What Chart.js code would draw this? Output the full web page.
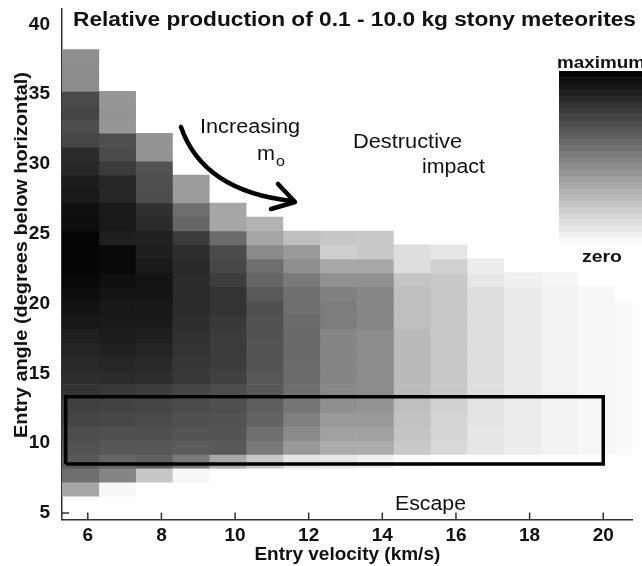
<!DOCTYPE html>
<html><head><meta charset="utf-8">
<script src="https://cdn.jsdelivr.net/npm/chart.js@4/dist/chart.umd.min.js"></script>
<style>html,body{margin:0;padding:0;background:#fff;}canvas{display:block;}</style>
</head><body>
<canvas id="c" width="642" height="566"></canvas>
<script>
// ---- data ----
const velocities = [5.8, 6.8, 7.8, 8.8, 9.8, 10.8, 11.8, 12.8, 13.8, 14.8, 15.8, 16.8, 17.8, 18.8, 19.8, 20.8];
const angles = [6.7, 7.7, 8.7, 9.7, 10.7, 11.7, 12.7, 13.7, 14.7, 15.7, 16.7, 17.7, 18.7, 19.7, 20.7, 21.7,
                22.7, 23.7, 24.7, 25.7, 26.7, 27.7, 28.7, 29.7, 30.7, 31.7, 32.7, 33.7, 34.7, 35.7, 36.7, 37.7];
// relative production (0 = zero, 100 = maximum), per velocity column, rows from lowest angle upward
const p5_8  = [35,57,65,68,70,73,75,80,82,84,86,88,91,93,95,97,98,98,98,95,94,90,89,84,83,72,70,73,71,45,45,44];
const p6_8  = [3,48,60,66,69,72,74,78,83,85,87,89,90,91,92,94,97,97,88,90,90,85,85,77,71,69,41,42,41];
const p7_8  = [null,22,62,66,69,71,73,76,82,84,86,88,90,91,92,92,90,88,87,83,81,70,69,68,42,42];
const p8_8  = [null,3,52,64,67,69,71,73,78,79,80,81,82,83,83,83,84,82,77,60,57,39,39];
const p9_8  = [null,null,34,65,67,68,69,70,75,76,77,77,78,80,80,76,72,71,58,35,35];
const p10_8 = [null,null,22,52,57,61,63,66,66,67,67,68,68,69,65,60,57,46,35,30];
const p11_8 = [null,null,10,40,46,50,54,57,58,58,59,59,58,57,56,52,44,40,25];
const p12_8 = [null,null,9,33,37,40,44,47,48,48,48,48,51,51,50,43,34,19,22];
const p13_8 = [null,null,6,33,37,40,42,45,45,45,45,45,47,47,47,43,34,21,21];
const p14_8 = [null,null,2,21,23,24,25,27,27,27,27,27,25,25,25,23,13,13];
const p15_8 = [null,null,null,15,16,17,18,21,21,21,21,21,21,21,21,21,18,10];
const p16_8 = [null,null,null,10,10,11,11,13,13,13,13,13,13,13,13,10,7];
const p17_8 = [null,null,null,7,7,7,7,8,8,8,8,8,8,8,8,6];
const p18_8 = [null,null,null,5,5,5,5,5,5,5,5,5,5,5,5,4];
const p19_8 = [null,null,null,3,3,3,3,3,3,3,3,3,3,3,3];
const p20_8 = [null,null,null,2,2,2,2,2,2,2,2,2,2,2];
const xTicks = [6, 8, 10, 12, 14, 16, 18, 20];
const yTicks = [5, 10, 15, 20, 25, 30, 35, 40];
const boxVelocity = [5.4, 20.0];
const boxAngle = [8.5, 13.33];

const columns = [p5_8,p6_8,p7_8,p8_8,p9_8,p10_8,p11_8,p12_8,p13_8,p14_8,p15_8,p16_8,p17_8,p18_8,p19_8,p20_8];
const FONT = "'Liberation Sans', Arial, Helvetica, sans-serif";
function gray(p){ const g = Math.round(255 * (1 - p / 100)); return `rgb(${g},${g},${g})`; }

const datasets = velocities.map((v, i) => {
  const pts = [], cols = [];
  columns[i].forEach((p, j) => {
    if (p === null || p === undefined) return;
    pts.push({x: v, y: [angles[j] - 0.5, angles[j] + 0.5]});
    cols.push(gray(p));
  });
  return {type: 'bar', data: pts, backgroundColor: cols, borderWidth: 0,
          barPercentage: 1, categoryPercentage: 1, order: 2};
});
datasets.push({
  type: 'line',
  data: [
    {x: boxVelocity[0], y: boxAngle[0]}, {x: boxVelocity[1], y: boxAngle[0]},
    {x: boxVelocity[1], y: boxAngle[1]}, {x: boxVelocity[0], y: boxAngle[1]},
    {x: boxVelocity[0], y: boxAngle[0]}
  ],
  borderColor: '#000', borderWidth: 3.5, pointRadius: 0, fill: false, tension: 0,
  borderJoinStyle: 'miter', order: 0
});

function stretchText(ctx, str, x, y, font, width, align) {
  ctx.save();
  ctx.font = font;
  const w = ctx.measureText(str).width;
  const sx = width ? width / w : 1;
  ctx.translate(x, y);
  ctx.scale(sx, 1);
  ctx.textAlign = align || 'left';
  ctx.textBaseline = 'middle';
  ctx.fillStyle = '#111';
  ctx.fillText(str, 0, 0);
  ctx.restore();
}

const decor = {
  id: 'decor',
  beforeDatasetsDraw(chart) {
    const {ctx, chartArea: a, scales: {x, y}} = chart;
    ctx.save();
    ctx.strokeStyle = '#333'; ctx.lineWidth = 1.5;
    ctx.beginPath();
    xTicks.forEach(v => { const px = x.getPixelForValue(v); ctx.moveTo(px, a.bottom); ctx.lineTo(px, a.bottom - 7); });
    yTicks.slice(0, -1).forEach(v => { const py = y.getPixelForValue(v); ctx.moveTo(a.left, py); ctx.lineTo(a.left + 7, py); });
    ctx.stroke();
    ctx.restore();
  },
  afterDraw(chart) {
    const ctx = chart.ctx;
    // title
    stretchText(ctx, 'Relative production of 0.1 - 10.0 kg stony meteorites', 73, 20, `bold 20px ${FONT}`, 563);
    // y axis title
    ctx.save();
    ctx.translate(22, 255);
    ctx.rotate(-Math.PI / 2);
    stretchText(ctx, 'Entry angle (degrees below horizontal)', 0, 0, `bold 19px ${FONT}`, 366, 'center');
    ctx.restore();
    // annotations
    stretchText(ctx, 'Increasing', 200, 127, `20px ${FONT}`, 100);
    stretchText(ctx, 'm', 257, 154, `20px ${FONT}`, 18);
    stretchText(ctx, 'o', 276, 162, `14px ${FONT}`, 9);
    stretchText(ctx, 'Destructive', 353, 142, `20px ${FONT}`, 109);
    stretchText(ctx, 'impact', 422, 167, `20px ${FONT}`, 63);
    stretchText(ctx, 'Escape', 395, 504, `20px ${FONT}`, 71);
    // arrow
    ctx.save();
    ctx.strokeStyle = '#000'; ctx.lineWidth = 4.5; ctx.lineCap = 'round'; ctx.lineJoin = 'round';
    ctx.beginPath();
    ctx.moveTo(181, 127);
    ctx.quadraticCurveTo(203, 191, 292, 201);
    ctx.stroke();
    ctx.beginPath();
    ctx.moveTo(278, 184); ctx.lineTo(295, 202); ctx.lineTo(271, 209);
    ctx.stroke();
    ctx.restore();
    // colour bar
    const top = 71, bottom = 244, left = 559, right = 642, steps = 28;
    const h = (bottom - top) / steps;
    for (let i = 0; i < steps; i++) {
      ctx.fillStyle = gray(100 - (i + 0.5) * 100 / steps);
      ctx.fillRect(left, top + i * h, right - left, h + 0.6);
    }
    stretchText(ctx, 'maximum', 557, 63, `bold 17px ${FONT}`, 88);
    stretchText(ctx, 'zero', 582, 257, `bold 17px ${FONT}`, 40);
  }
};

new Chart(document.getElementById('c'), {
  type: 'bar',
  data: {datasets},
  options: {
    responsive: false,
    animation: false,
    devicePixelRatio: 1,
    layout: {padding: {top: 9, right: 9.3, left: 0, bottom: 0}},
    plugins: {legend: {display: false}, tooltip: {enabled: false}, title: {display: false}},
    scales: {
      x: {
        type: 'linear', min: 5.3, max: 20.8, stacked: true, offset: false,
        grid: {display: false, drawTicks: false},
        border: {display: true, color: '#333', width: 1.5},
        ticks: {font: {family: FONT, size: 19, weight: 'bold'}, color: '#111', padding: 5, maxRotation: 0, autoSkip: false},
        afterBuildTicks: s => { s.ticks = xTicks.map(v => ({value: v})); },
        afterFit: s => { s.height = 46.5; s.paddingLeft = 0; s.paddingRight = 0; },
        title: {display: true, text: 'Entry velocity (km/s)', color: '#111',
                font: {family: FONT, size: 19, weight: 'bold'}, padding: {top: 0, bottom: 0}}
      },
      y: {
        type: 'linear', min: 4.53, max: 41.1, stacked: false,
        grid: {display: false, drawTicks: false},
        border: {display: true, color: '#333', width: 1.5},
        ticks: {font: {family: FONT, size: 19, weight: 'bold'}, color: '#111', padding: 12, autoSkip: false},
        afterBuildTicks: s => { s.ticks = yTicks.map(v => ({value: v})); },
        afterFit: s => { s.width = 62; s.paddingTop = 0; s.paddingBottom = 0; }
      }
    }
  },
  plugins: [decor]
});
</script>
</body></html>
